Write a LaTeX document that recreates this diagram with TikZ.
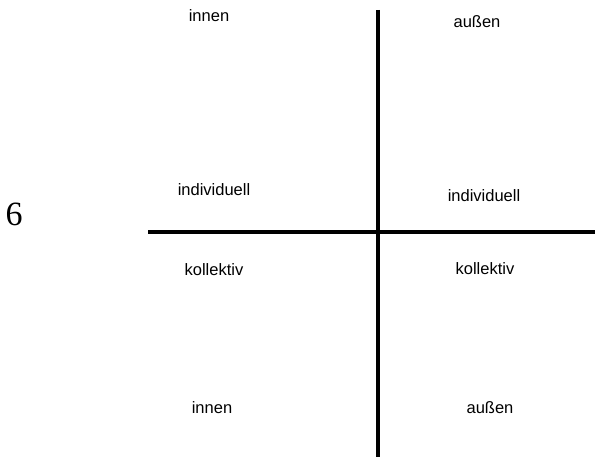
\documentclass[tikz,border=0pt]{standalone}
\usepackage{fontspec}
\setmainfont{Liberation Sans}
\newfontfamily\serifnum{Liberation Serif}
\begin{document}
\begin{tikzpicture}[x=1pt,y=-1pt,
  axis/.style={line width=3.2pt,black},
  lbl/.style={font=\fontsize{16.5}{19}\selectfont,inner sep=0pt}]
\useasboundingbox[fill=white] (0,0) rectangle (595,457);
\coordinate (vt) at (378,10);
\coordinate (vb) at (378,457);
\coordinate (hl) at (148,232);
\coordinate (hr) at (595,232);
\draw[axis] (vt) -- (vb);
\draw[axis] (hl) -- (hr);
\node[lbl] (tl) at (209,16) {innen};
\node[lbl] (tr) at (477,22) {außen};
\node[lbl] (il) at (214,190) {individuell};
\node[lbl] (ir) at (484,196) {individuell};
\node[lbl] (kl) at (214,270) {kollektiv};
\node[lbl] (kr) at (485,269) {kollektiv};
\node[lbl] (bl) at (212,408) {innen};
\node[lbl] (br) at (490,408) {außen};
\node[inner sep=0pt,font=\serifnum\fontsize{34}{38}\selectfont] (six) at (14,214) {6};
\end{tikzpicture}
\end{document}
